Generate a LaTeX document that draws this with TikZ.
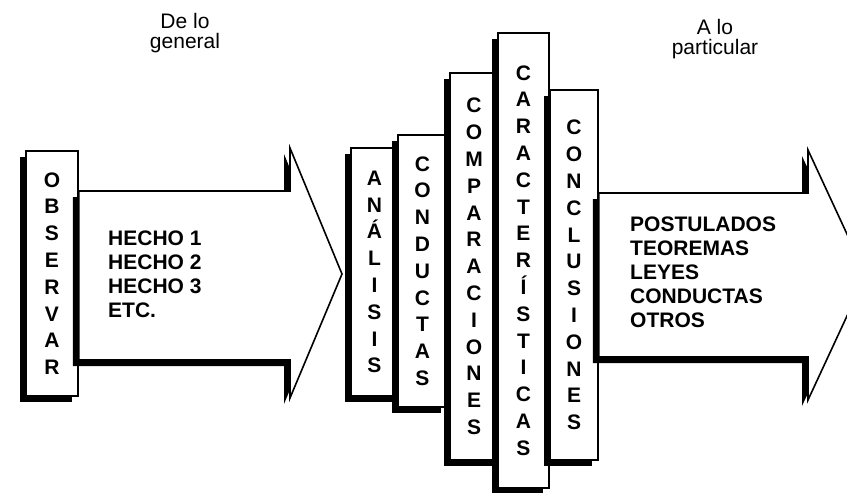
\documentclass[tikz,border=0pt]{standalone}
\usepackage{fontspec}
\setmainfont{Liberation Sans}
\usetikzlibrary{shadows}

\tikzset{
    sombra/.style={drop shadow={shadow xshift=-6pt,shadow yshift=-6pt,fill=black,opacity=1}},
    caja/.style={draw,fill=white,line width=1.6pt,inner sep=0pt,align=center,
        font=\bfseries\fontsize{21}{26.8}\selectfont,sombra},
    flecha/.style={draw,fill=white,line width=1.6pt,line join=miter,sombra},
    lista/.style={inner sep=0pt,align=left,font=\bfseries\fontsize{21}{24}\selectfont},
    titulo/.style={inner sep=0pt,align=center,font=\fontsize{21}{20}\selectfont}
}

\begin{document}
\begin{tikzpicture}[x=1pt,y=-1pt]
    \useasboundingbox (0,0) rectangle (847,493);
    \clip (0,0) rectangle (847,493);

    % primera parte
    \node[caja,minimum width=52pt,minimum height=245pt] (observar) at (52,273.5)
        {O\\B\\S\\E\\R\\V\\A\\R};
    \draw[flecha] (observar.east |- 0,191) -- (290,191) -- (290,148) -- (342,274)
        -- (290,398) -- (290,360) -- (observar.east |- 0,360) -- cycle;

    % columnas del centro
    \node[caja,minimum width=47pt,minimum height=248pt] (analisis) at (374.5,272)
        {A\\N\\Á\\L\\I\\S\\I\\S};
    \node[caja,minimum width=49pt,minimum height=272pt] (conductas) at (422.5,271)
        {C\\O\\N\\D\\U\\C\\T\\A\\S};
    \node[caja,minimum width=48pt,minimum height=387pt] (comparaciones) at (474,266.5)
        {C\\O\\M\\P\\A\\R\\A\\C\\I\\O\\N\\E\\S};
    \node[caja,minimum width=51pt,minimum height=455pt] (caracteristicas) at (523.5,260.5)
        {C\\A\\R\\A\\C\\T\\E\\R\\Í\\S\\T\\I\\C\\A\\S};
    \node[caja,minimum width=48pt,minimum height=370pt] (conclusiones) at (574,275)
        {C\\O\\N\\C\\L\\U\\S\\I\\O\\N\\E\\S};

    % segunda parte
    \draw[flecha] (conclusiones.east |- 0,193) -- (808,193) -- (808,150) -- (866,275)
        -- (808,400) -- (808,357) -- (conclusiones.east |- 0,357) -- cycle;

    % textos
    \node[lista,anchor=west] (hechos) at (108,274) {HECHO 1\\HECHO 2\\HECHO 3\\ETC.};
    \node[lista,anchor=west] (resultados) at (630,272.5)
        {POSTULADOS\\TEOREMAS\\LEYES\\CONDUCTAS\\OTROS};
    \node[titulo] (general) at (185,32.6) {De lo\\general};
    \node[titulo] (particular) at (715,39.5) {A lo\\particular};
\end{tikzpicture}
\end{document}
